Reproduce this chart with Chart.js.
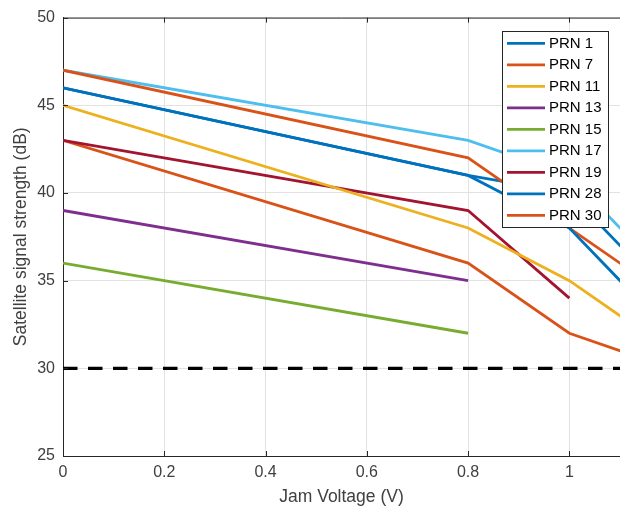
<!DOCTYPE html>
<html><head><meta charset="utf-8">
<script src="https://cdn.jsdelivr.net/npm/chart.js@4.4.0/dist/chart.umd.min.js"></script>
<style>html,body{margin:0;padding:0;background:#fff;overflow:hidden}#wrap{width:620px;height:515px}</style>
</head><body><div id="wrap"><canvas id="c" width="620" height="515"></canvas></div>
<script>
// ---- data ----
const voltages = [0, 0.8, 1.0, 1.2];
const seriesNames = ['PRN 1','PRN 7','PRN 11','PRN 13','PRN 15','PRN 17','PRN 19','PRN 28','PRN 30'];
const prn1  = [46, 41, 38, 32];
const prn7  = [47, 42, 38, 34];
const prn11 = [45, 38, 35, 31];
const prn13 = [39, 35];
const prn15 = [36, 32];
const prn17 = [47, 43, 41, 35];
const prn19 = [43, 39, 34];
const prn28 = [46, 41, 40, 34];
const prn30 = [43, 36, 32, 30];
const thresholdX = [0, 1.2];
const thresholdY = [30, 30];
const xTicks = [0, 0.2, 0.4, 0.6, 0.8, 1];
const yTicks = [25, 30, 35, 40, 45, 50];
const xLabel = 'Jam Voltage (V)';
const yLabel = 'Satellite signal strength (dB)';

// ---- styling ----
const seriesValues = [prn1, prn7, prn11, prn13, prn15, prn17, prn19, prn28, prn30];
const colors = ['#0072BD','#D95319','#EDB120','#7E2F8E','#77AC30','#4DBEEE','#A2142F','#0072BD','#D95319'];
const FONT = '"Liberation Sans", Arial, Helvetica, sans-serif';
const AX = '#262626';

const toPts = (xs, ys) => ys.map((y, i) => ({x: xs[i], y: y}));

const datasets = seriesValues.map((vals, i) => ({
  label: seriesNames[i],
  data: toPts(voltages, vals),
  borderColor: colors[i],
  backgroundColor: colors[i],
  borderWidth: 2.8,
  pointRadius: 0,
  tension: 0,
  fill: false,
  borderJoinStyle: 'miter'
}));
datasets.push({
  label: '_threshold',
  data: toPts(thresholdX, thresholdY),
  borderColor: '#000',
  borderWidth: 3.3,
  borderDash: [14.5, 10.5],
  pointRadius: 0,
  fill: false
});

const frame = {
  id: 'frame',
  afterDraw(chart) {
    const ctx = chart.ctx;
    const a = chart.chartArea;
    const xs = chart.scales.x, ys = chart.scales.y;
    ctx.save();
    ctx.strokeStyle = AX;
    ctx.lineWidth = 1;
    // top border
    ctx.beginPath();
    ctx.moveTo(a.left, a.top + 0.5);
    ctx.lineTo(a.right, a.top + 0.5);
    ctx.stroke();
    // inward ticks
    const tl = 5;
    ctx.beginPath();
    xTicks.forEach(v => {
      const px = Math.round(xs.getPixelForValue(v)) + 0.5;
      ctx.moveTo(px, a.bottom); ctx.lineTo(px, a.bottom - tl);
      ctx.moveTo(px, a.top); ctx.lineTo(px, a.top + tl);
    });
    yTicks.forEach(v => {
      const py = Math.round(ys.getPixelForValue(v)) + 0.5;
      ctx.moveTo(a.left, py); ctx.lineTo(a.left + tl, py);
    });
    ctx.stroke();

    // legend box
    const L = {x: 502, y: 31, w: 106, h: 196};
    ctx.fillStyle = '#fff';
    ctx.fillRect(L.x, L.y, L.w, L.h);
    ctx.strokeStyle = AX;
    ctx.lineWidth = 1;
    ctx.strokeRect(L.x + 0.5, L.y + 0.5, L.w, L.h);
    ctx.font = '15px ' + FONT;
    ctx.textBaseline = 'middle';
    ctx.textAlign = 'left';
    const rowH = 21.5;
    seriesNames.forEach((name, i) => {
      const cy = 43.3 + i * rowH;
      ctx.strokeStyle = colors[i];
      ctx.lineWidth = 2.8;
      ctx.beginPath();
      ctx.moveTo(507, cy); ctx.lineTo(545, cy);
      ctx.stroke();
      ctx.fillStyle = '#000';
      ctx.fillText(name, 549, cy + 0.5);
    });
    ctx.restore();
  }
};

new Chart(document.getElementById('c'), {
  type: 'line',
  data: { datasets },
  options: {
    responsive: false,
    animation: false,
    devicePixelRatio: 1,
    layout: { padding: { top: 13, right: 0, left: 0, bottom: 0 } },
    plugins: { legend: { display: false }, tooltip: { enabled: false } },
    scales: {
      x: {
        type: 'linear',
        min: 0, max: 1.1,
        afterBuildTicks: s => { s.ticks = xTicks.map(v => ({value: v})); },
        afterFit: s => { s.height = 59; },
        grid: { color: '#e2e2e2', drawTicks: false, lineWidth: 1 },
        border: { display: true, color: AX, width: 1 },
        ticks: {
          padding: 7,
          color: '#404040',
          font: { family: FONT, size: 16 },
          callback: v => String(v)
        },
        title: { display: true, text: xLabel, color: '#404040',
                 font: { family: FONT, size: 17.5 }, padding: { top: 0, bottom: 7.5 } }
      },
      y: {
        type: 'linear',
        min: 25, max: 50,
        afterBuildTicks: s => { s.ticks = yTicks.map(v => ({value: v})); },
        afterFit: s => { s.width = 63; },
        grid: { color: '#e2e2e2', drawTicks: false, lineWidth: 1 },
        border: { display: true, color: AX, width: 1 },
        ticks: {
          padding: 8,
          color: '#404040',
          font: { family: FONT, size: 16 },
          callback: v => String(v)
        },
        title: { display: true, text: yLabel, color: '#404040',
                 font: { family: FONT, size: 17.5 }, padding: { top: 10.5, bottom: 0 } }
      }
    }
  },
  plugins: [frame]
});
</script>
</body></html>
